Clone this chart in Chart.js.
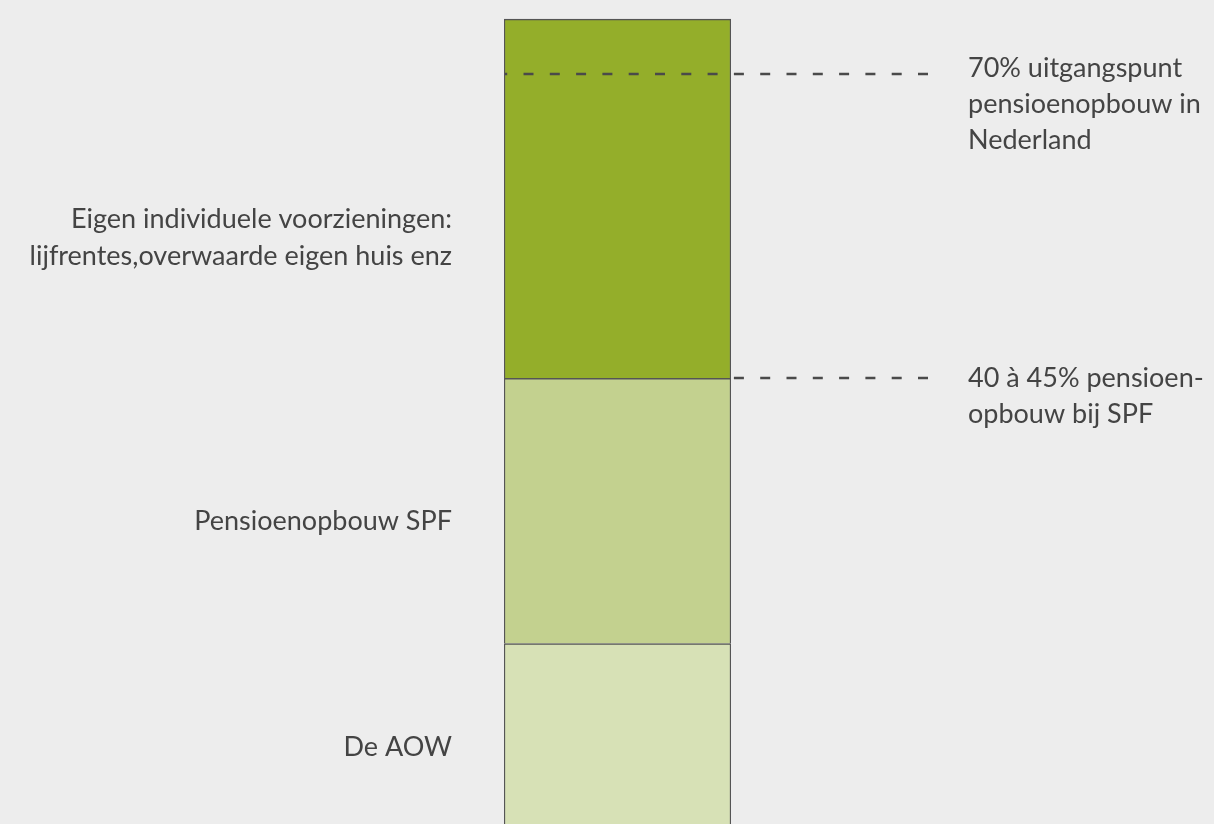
<!DOCTYPE html>
<html>
<head>
<meta charset="utf-8">
<script src="https://cdn.jsdelivr.net/npm/chart.js@4.4.0/dist/chart.umd.min.js"></script>
<style>
  html, body { margin: 0; padding: 0; background: #ededed; overflow: hidden; }
  #wrap { width: 1214px; height: 848px; position: relative; }
</style>
</head>
<body>
<div id="wrap"><canvas id="pensioen"></canvas></div>
<script>
// one stacked bar, values in % of salary (bottom to top)
const categories = [""];
const segmentNames = ["De AOW", "Pensioenopbouw SPF", "Eigen individuele voorzieningen"];
const segmentValues = [18.5, 24, 32.5];
const segmentLabels = [
  ["De AOW"],
  ["Pensioenopbouw SPF"],
  ["Eigen individuele voorzieningen:", "lijfrentes,overwaarde eigen huis enz"],
];
// value (in %) where each left label is centred
const segmentLabelAt = [9.1, 29.6, 55.2];
const segmentColors = ["#d7e1b6", "#c3d18f", "#94ae2a"];

// dashed reference lines on the right
const markerValues = [70, 42.5];
const markerLabels = [
  ["70% uitgangspunt", "pensioenopbouw in", "Nederland"],
  ["40 à 45% pensioen-", "opbouw bij SPF"],
];
const markerFromBar = [true, false]; // 70% line runs across the bar

const yMax = 75.1;
const textColor = "#444444";
const fontFamily = "Lato, 'Open Sans', sans-serif";

const annotations = {
  id: "annotations",
  afterDatasetsDraw(chart) {
    const { ctx, chartArea, scales } = chart;
    const y = scales.y;
    ctx.save();

    // dashed lines, drawn from the right end so they all end on a dash
    ctx.strokeStyle = "#4a4a4a";
    ctx.lineWidth = 2.5;
    ctx.setLineDash([10, 16.3]);
    markerValues.forEach((v, i) => {
      const py = Math.round(y.getPixelForValue(v));
      const x0 = markerFromBar[i] ? chartArea.left + 1 : chartArea.right + 1;
      ctx.beginPath();
      ctx.moveTo(chartArea.right + 197, py);
      ctx.lineTo(x0, py);
      ctx.stroke();
    });
    ctx.setLineDash([]);

    ctx.fillStyle = textColor;
    ctx.font = "27px " + fontFamily;

    // right hand notes
    const shift = [3, 9];
    ctx.textAlign = "left";
    ctx.textBaseline = "alphabetic";
    markerValues.forEach((v, i) => {
      const py = y.getPixelForValue(v) + shift[i];
      markerLabels[i].forEach((line, j) => {
        ctx.fillText(line, chartArea.right + 237, py + j * 36);
      });
    });

    // left labels
    ctx.textAlign = "right";
    ctx.textBaseline = "middle";
    segmentLabels.forEach((lines, i) => {
      const cy = y.getPixelForValue(segmentLabelAt[i]);
      const top = cy - (lines.length - 1) * 18.5;
      lines.forEach((line, j) => {
        ctx.fillText(line, chartArea.left - 52, top + j * 37);
      });
    });

    ctx.restore();
  },
};

const datasets = segmentNames.map((name, i) => ({
  label: name,
  data: [segmentValues[i]],
  backgroundColor: segmentColors[i],
  borderColor: "#555555",
  borderWidth: { top: 1.5, left: 1.5, right: 1.5, bottom: 0 },
  borderSkipped: false,
  barPercentage: 1,
  categoryPercentage: 1,
}));

const config = {
  type: "bar",
  data: { labels: categories, datasets: datasets },
  options: {
    animation: false,
    responsive: true,
    maintainAspectRatio: false,
    layout: { padding: { left: 504, right: 483, top: 18, bottom: 0 } },
    scales: {
      x: { stacked: true, display: false },
      y: { stacked: true, display: false, min: 0, max: yMax },
    },
    plugins: {
      legend: { display: false },
      tooltip: { enabled: false },
      title: { display: false },
    },
  },
  plugins: [annotations],
};

new Chart(document.getElementById("pensioen"), config);
</script>
</body>
</html>
